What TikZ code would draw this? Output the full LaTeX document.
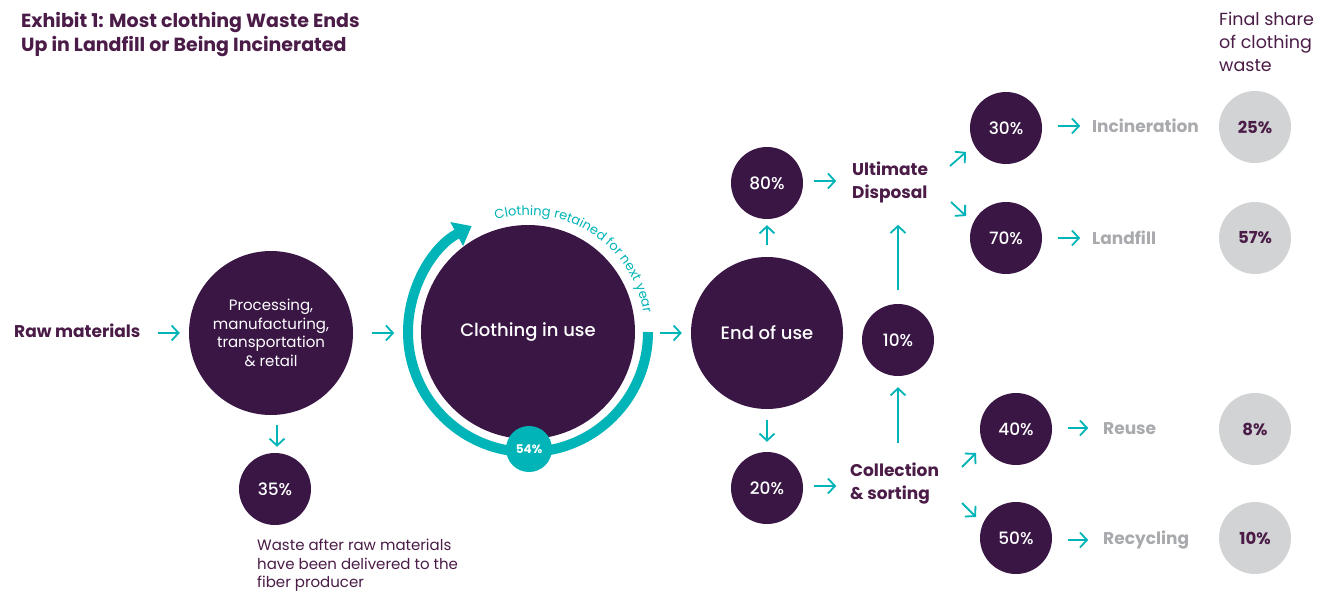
\documentclass[tikz,border=0pt]{standalone}
\usepackage{fontspec}
\setmainfont{Poppins}
\newfontfamily\pmed{Poppins Medium}
\usetikzlibrary{arrows.meta,decorations.text}
\definecolor{plum}{HTML}{3A1645}
\definecolor{plumtext}{HTML}{4A1C47}
\definecolor{tealc}{HTML}{00B4B8}
\definecolor{greyt}{HTML}{A8AAAD}
\definecolor{greyc}{HTML}{D1D3D4}
\begin{document}
\begin{tikzpicture}[x=1pt,y=1pt,
  dot/.style={circle, fill=plum, inner sep=0pt, minimum size=#1, text=white,
    font=\pmed\fontsize{17}{19}\selectfont},
  share/.style={circle, fill=greyc, inner sep=0pt, minimum size=72pt, text=plumtext,
    font=\bfseries\fontsize{16.5}{18}\selectfont},
  lbl/.style={text=plumtext, font=\bfseries\fontsize{17}{23}\selectfont, align=left,
    inner sep=0pt, anchor=west},
  outcome/.style={text=greyt, font=\bfseries\fontsize{17}{20}\selectfont, anchor=west,
    inner sep=0pt},
  note/.style={text=plumtext, align=left, inner sep=0pt, anchor=north west},
  arr/.style={draw=tealc, line width=1.8pt, -{Straight Barb[length=7pt,width=15pt]}}]

\fill[white] (0,0) rectangle (1324,-596);
\path[use as bounding box] (0,0) rectangle (1324,-596);

% headings
\node[note, font=\bfseries\fontsize{19}{24}\selectfont] (title) at (21,-12)
  {Exhibit 1: Most clothing Waste Ends\\Up in Landfill or Being Incinerated};
\node[note, font=\fontsize{17.5}{23}\selectfont] (fshare) at (1219,-12)
  {Final share\\of clothing\\waste};

% retention loop around the in-use stock
\draw[tealc, line width=10pt, -{Triangle[length=17pt,width=26pt]}]
  (528,-332) ++(0:120) arc[start angle=0, end angle=-242, radius=120pt];
\path[decorate, decoration={text along path, text color=tealc,
    text={|\fontsize{13}{14}\selectfont|Clothing retained for next year}}]
  (528,-332) ++(106:117) arc[start angle=106, end angle=5, radius=117pt];

% main flow
\node[lbl] (raw) at (14,-331) {Raw materials};
\node[dot=164pt, font=\fontsize{15}{18.7}\selectfont, align=center] (proc) at (271,-333)
  {Processing,\\manufacturing,\\transportation\\\& retail};
\node[dot=214pt, font=\pmed\fontsize{18}{20}\selectfont] (use) at (528,-332) {Clothing in use};
\node[circle, fill=tealc, minimum size=46pt, inner sep=0pt, text=white,
  font=\bfseries\fontsize{12}{14}\selectfont] (ret) at (529,-449) {54\%};
\node[dot=152pt, font=\pmed\fontsize{18}{20}\selectfont] (endu) at (767,-333) {End of use};

\node[dot=72pt] (w35) at (275,-489) {35\%};
\node[note, font=\fontsize{15}{18.5}\selectfont] (wnote) at (257,-539)
  {Waste after raw materials\\have been delivered to the\\fiber producer};

\node[dot=72pt] (p80) at (767,-183) {80\%};
\node[dot=72pt] (p20) at (767,-488) {20\%};
\node[dot=72pt] (p10) at (898,-340) {10\%};
\node[lbl] (ud) at (852,-182) {Ultimate\\Disposal};
\node[lbl] (cs) at (850,-484) {Collection\\\& sorting};

\node[dot=72pt] (p30) at (1006,-128) {30\%};
\node[dot=72pt] (p70) at (1006,-238) {70\%};
\node[dot=72pt] (p40) at (1016,-429) {40\%};
\node[dot=72pt] (p50) at (1016,-538) {50\%};

\node[outcome] (inc) at (1092,-126) {Incineration};
\node[outcome] (land) at (1092,-238) {Landfill};
\node[outcome] (reuse) at (1103,-429) {Reuse};
\node[outcome] (recyc) at (1103,-540) {Recycling};

\node[share] (g25) at (1255,-127) {25\%};
\node[share] (g57) at (1255,-238) {57\%};
\node[share] (g8) at (1255,-429) {8\%};
\node[share] (g10) at (1255,-538) {10\%};

% connectors
\draw[arr] ([xshift=-31]proc.west) -- ([xshift=-9]proc.west);
\draw[arr] ([xshift=19]proc.east) -- ([xshift=41]proc.east);
\draw[arr] ([xshift=6,yshift=-10]proc.south) -- ([xshift=2,yshift=6]w35.north);
\draw[arr] ([xshift=-31]endu.west) -- ([xshift=-9]endu.west);
\draw[arr] ([yshift=12]endu.north) -- ([yshift=-6]p80.south);
\draw[arr] ([yshift=-11]endu.south) -- ([yshift=10]p20.north);
\draw[arr] ([xshift=11,yshift=2]p80.east) -- ([xshift=33,yshift=2]p80.east);
\draw[arr] ([xshift=11,yshift=2]p20.east) -- ([xshift=33,yshift=2]p20.east);
\draw[arr] ([yshift=-67]p10.south) -- ([yshift=-11]p10.south);
\draw[arr] ([yshift=14]p10.north) -- ([yshift=79]p10.north);
\draw[arr] ([shift={(-56,-38)}]p30.center) -- ([shift={(-40,-24)}]p30.center);
\draw[arr] ([shift={(-55,36)}]p70.center) -- ([shift={(-40,22)}]p70.center);
\draw[arr] ([shift={(-54,-38)}]p40.center) -- ([shift={(-40,-24)}]p40.center);
\draw[arr] ([shift={(-54,35)}]p50.center) -- ([shift={(-40,21)}]p50.center);
\draw[arr] ([xshift=16,yshift=2]p30.east) -- ([xshift=38,yshift=2]p30.east);
\draw[arr] ([xshift=16]p70.east) -- ([xshift=38]p70.east);
\draw[arr] ([xshift=16,yshift=1]p40.east) -- ([xshift=36,yshift=1]p40.east);
\draw[arr] ([xshift=16,yshift=-2]p50.east) -- ([xshift=36,yshift=-2]p50.east);
\end{tikzpicture}
\end{document}
